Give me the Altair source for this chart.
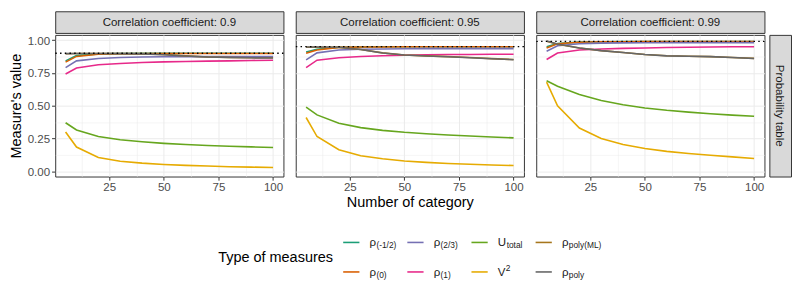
import altair as alt
import pandas as pd

FONT = "Liberation Sans"

# ---------------- data ----------------
x_vals = [5, 10, 20, 30, 40, 50, 60, 70, 80, 90, 100]
corr_values = [0.9, 0.95, 0.99]

measure_keys = ["rho_m12", "rho_0", "rho_23", "rho_1", "U_total", "V2", "rho_polyML", "rho_poly"]
measure_colors = ["#1B9E77", "#D95F02", "#7570B3", "#E7298A", "#66A61E", "#E6AB02", "#A6761D", "#666666"]
legend_main = ["ρ", "ρ", "ρ", "ρ", "U", "V", "ρ", "ρ"]
legend_sub = ["(-1/2)", "(0)", "(2/3)", "(1)", "total", "", "poly(ML)", "poly"]
legend_sup = ["", "", "", "", "", "2", "", ""]

# correlation 0.9
r090_rho_m12 = [0.842, 0.882, 0.895, 0.898, 0.899, 0.899, 0.900, 0.900, 0.900, 0.900, 0.900]
r090_rho_0 = [0.832, 0.876, 0.893, 0.896, 0.897, 0.898, 0.898, 0.898, 0.898, 0.898, 0.898]
r090_rho_23 = [0.790, 0.842, 0.860, 0.867, 0.871, 0.873, 0.874, 0.874, 0.874, 0.874, 0.875]
r090_rho_1 = [0.742, 0.787, 0.812, 0.822, 0.829, 0.834, 0.837, 0.840, 0.842, 0.845, 0.847]
r090_U = [0.370, 0.315, 0.265, 0.240, 0.225, 0.213, 0.204, 0.197, 0.191, 0.186, 0.182]
r090_V2 = [0.300, 0.185, 0.105, 0.077, 0.062, 0.052, 0.045, 0.040, 0.035, 0.032, 0.029]
r090_polyML = [0.896, 0.898, 0.898, 0.897, 0.895, 0.890, 0.880, 0.872, 0.868, 0.866, 0.865]
r090_poly = [0.897, 0.898, 0.898, 0.897, 0.895, 0.889, 0.879, 0.871, 0.867, 0.865, 0.864]

# correlation 0.95
r095_rho_m12 = [0.910, 0.930, 0.946, 0.948, 0.949, 0.949, 0.950, 0.950, 0.950, 0.950, 0.950]
r095_rho_0 = [0.900, 0.925, 0.945, 0.947, 0.948, 0.949, 0.949, 0.949, 0.949, 0.949, 0.949]
r095_rho_23 = [0.850, 0.903, 0.925, 0.930, 0.932, 0.934, 0.935, 0.935, 0.935, 0.935, 0.935]
r095_rho_1 = [0.790, 0.847, 0.865, 0.875, 0.881, 0.885, 0.888, 0.890, 0.891, 0.892, 0.893]
r095_U = [0.490, 0.430, 0.366, 0.333, 0.312, 0.297, 0.286, 0.277, 0.269, 0.262, 0.255]
r095_V2 = [0.410, 0.265, 0.165, 0.118, 0.095, 0.079, 0.068, 0.060, 0.053, 0.048, 0.044]
r095_polyML = [0.946, 0.946, 0.945, 0.928, 0.903, 0.887, 0.880, 0.874, 0.867, 0.859, 0.852]
r095_poly = [0.947, 0.947, 0.946, 0.928, 0.902, 0.886, 0.879, 0.873, 0.866, 0.858, 0.851]

# correlation 0.99
r099_rho_m12 = [0.950, 0.975, 0.985, 0.988, 0.989, 0.990, 0.990, 0.990, 0.990, 0.990, 0.990]
r099_rho_0 = [0.940, 0.972, 0.984, 0.987, 0.988, 0.989, 0.989, 0.990, 0.990, 0.990, 0.990]
r099_rho_23 = [0.915, 0.957, 0.972, 0.977, 0.979, 0.980, 0.981, 0.981, 0.981, 0.981, 0.981]
r099_rho_1 = [0.852, 0.902, 0.925, 0.933, 0.937, 0.940, 0.944, 0.946, 0.948, 0.949, 0.950]
r099_U = [0.690, 0.648, 0.585, 0.540, 0.507, 0.483, 0.465, 0.451, 0.439, 0.428, 0.419]
r099_V2 = [0.680, 0.500, 0.330, 0.250, 0.205, 0.174, 0.152, 0.136, 0.122, 0.110, 0.098]
r099_polyML = [0.992, 0.969, 0.940, 0.920, 0.905, 0.891, 0.881, 0.877, 0.874, 0.867, 0.861]
r099_poly = [0.993, 0.970, 0.940, 0.920, 0.905, 0.890, 0.880, 0.877, 0.874, 0.867, 0.860]

panel_series = [
    [r090_rho_m12, r090_rho_0, r090_rho_23, r090_rho_1, r090_U, r090_V2, r090_polyML, r090_poly],
    [r095_rho_m12, r095_rho_0, r095_rho_23, r095_rho_1, r095_U, r095_V2, r095_polyML, r095_poly],
    [r099_rho_m12, r099_rho_0, r099_rho_23, r099_rho_1, r099_U, r099_V2, r099_polyML, r099_poly],
]

rows = []
for r, series in zip(corr_values, panel_series):
    for key, vals in zip(measure_keys, series):
        for x, v in zip(x_vals, vals):
            rows.append({"corr": r, "measure": key, "x": x, "value": v})
df = pd.DataFrame(rows)

# ---------------- layout constants ----------------
W, H = 232, 144
STRIP_H = 22
x_grid = [12.5, 25, 37.5, 50, 62.5, 75, 87.5, 100]
y_grid = [0, 0.125, 0.25, 0.375, 0.5, 0.625, 0.75, 0.875, 1.0]

xscale = alt.Scale(domain=[0.25, 104.75], nice=False, zero=False)
yscale = alt.Scale(domain=[-0.04, 1.04], nice=False, zero=False)
cscale = alt.Scale(domain=measure_keys, range=measure_colors)

minor_x = "datum.value % 25 != 0"
minor_y = "datum.value % 0.25 != 0"


def y_axis(i):
    if i == 0:
        return alt.Axis(
            values=y_grid,
            labelExpr="datum.value % 0.25 == 0 ? format(datum.value, '.2f') : ''",
            gridWidth={"condition": {"test": minor_y, "value": 0.5}, "value": 1.0},
            tickOpacity={"condition": {"test": minor_y, "value": 0}, "value": 1},
            labelOverlap=False,
            labelFlush=False,
            labelBound=False,
            title="Measure's value",
        )
    return alt.Axis(
        values=y_grid,
        labels=False,
        ticks=False,
        gridWidth={"condition": {"test": minor_y, "value": 0.5}, "value": 1.0},
        title=None,
    )


def panel(i):
    r = corr_values[i]
    d = df[df["corr"] == r]
    xk = dict(
        values=x_grid,
        labelExpr="datum.value % 25 == 0 ? datum.label : ''",
        gridWidth={"condition": {"test": minor_x, "value": 0.5}, "value": 1.0},
        tickOpacity={"condition": {"test": minor_x, "value": 0}, "value": 1},
        labelOverlap=False,
        labelFlush=False,
        titlePadding=1,
        title=("Number of category" if i == 1 else None),
    )
    lines = alt.Chart(d).mark_line(strokeWidth=1.6).encode(
        x=alt.X("x:Q", scale=xscale, axis=alt.Axis(**xk)),
        y=alt.Y("value:Q", scale=yscale, axis=y_axis(i)),
        color=alt.Color("measure:N", scale=cscale, legend=None),
    )
    rule = alt.Chart(pd.DataFrame({"value": [r]})).mark_rule(
        color="black", strokeDash=[1.5, 3.3], strokeWidth=1.3
    ).encode(y=alt.Y("value:Q", scale=yscale, axis=y_axis(i)))
    return alt.layer(lines, rule).properties(width=W, height=H)


def strip(i):
    return alt.Chart(pd.DataFrame({"t": [f"Correlation coefficient: {corr_values[i]}"]})).mark_text(
        font=FONT, fontSize=11.7, color="#1A1A1A"
    ).encode(text="t:N").properties(
        width=W, height=STRIP_H, view=alt.ViewBackground(fill="#D9D9D9", stroke="#333333")
    )


vstrip = alt.Chart(pd.DataFrame({"t": ["Probability table"]})).mark_text(
    font=FONT, fontSize=11.7, color="#1A1A1A", angle=90
).encode(text="t:N").properties(
    width=STRIP_H, height=H, view=alt.ViewBackground(fill="#D9D9D9", stroke="#333333")
)

col1 = alt.vconcat(strip(0), panel(0), spacing=0)
col2 = alt.vconcat(strip(1), panel(1), spacing=0)
col3 = alt.vconcat(strip(2), alt.hconcat(panel(2), vstrip, spacing=2), spacing=0)
top = alt.hconcat(col1, col2, col3, spacing=8.5)

# ---------------- legend ----------------
ldf = pd.DataFrame({
    "measure": measure_keys,
    "main": legend_main,
    "sub": legend_sub,
    "sup": legend_sup,
    "col": [i // 2 for i in range(len(measure_keys))],
    "row": [i % 2 for i in range(len(measure_keys))],
})
LW, LH = 560, 60
C0, CS = 301.0, 65.2
lx = alt.X("col:Q", scale=alt.Scale(domain=[-C0 / CS, (LW - C0) / CS], nice=False, zero=False), axis=None)
ly = alt.Y("row:Q", scale=alt.Scale(domain=[-0.5, 1.5], reverse=True, nice=False, zero=False), axis=None)

lbase = alt.Chart(ldf).encode(x=lx, y=ly)
sym = lbase.mark_point(shape="stroke", size=272, strokeWidth=1.6, opacity=1, filled=False).encode(
    color=alt.Color("measure:N", scale=cscale, legend=None)
)
main_txt = lbase.mark_text(align="left", dx=18.5, font=FONT, fontSize=11.7, color="#1A1A1A").encode(text="main:N")
sub_rho = lbase.transform_filter("datum.main == 'ρ'").mark_text(
    align="left", dx=25.5, dy=3, font=FONT, fontSize=8.5, color="#1A1A1A"
).encode(text="sub:N")
sub_u = lbase.transform_filter("datum.main == 'U'").mark_text(
    align="left", dx=27.5, dy=3, font=FONT, fontSize=8.5, color="#1A1A1A"
).encode(text="sub:N")
sup_v = lbase.transform_filter("datum.main == 'V'").mark_text(
    align="left", dx=26.5, dy=-4, font=FONT, fontSize=8.5, color="#1A1A1A"
).encode(text="sup:N")
ltitle = alt.Chart(pd.DataFrame({"t": ["Type of measures"]})).mark_text(
    font=FONT, fontSize=14.7, color="black", align="center"
).encode(text="t:N", x=alt.value(224), y=alt.value(31))

legend = alt.layer(sym, main_txt, sub_rho, sub_u, sup_v, ltitle).properties(
    width=LW, height=LH, view=alt.ViewBackground(strokeOpacity=0)
)

chart = alt.vconcat(top, legend, spacing=18).properties(
    padding={"left": 0, "top": 0, "right": 0, "bottom": 0}
).configure(font=FONT).configure_view(
    stroke="#333333", strokeWidth=1
).configure_axis(
    domain=False,
    gridColor="#EBEBEB",
    tickColor="#333333",
    tickSize=3.7,
    tickWidth=1,
    labelColor="#4D4D4D",
    labelFontSize=11.7,
    labelFont=FONT,
    labelPadding=2,
    labelOverlap=False,
    titleFont=FONT,
    titleFontSize=14.7,
    titleFontWeight="normal",
    titleColor="black",
    titlePadding=4,
)

chart.save("out.html", embed_options={"renderer": "svg", "actions": False})
